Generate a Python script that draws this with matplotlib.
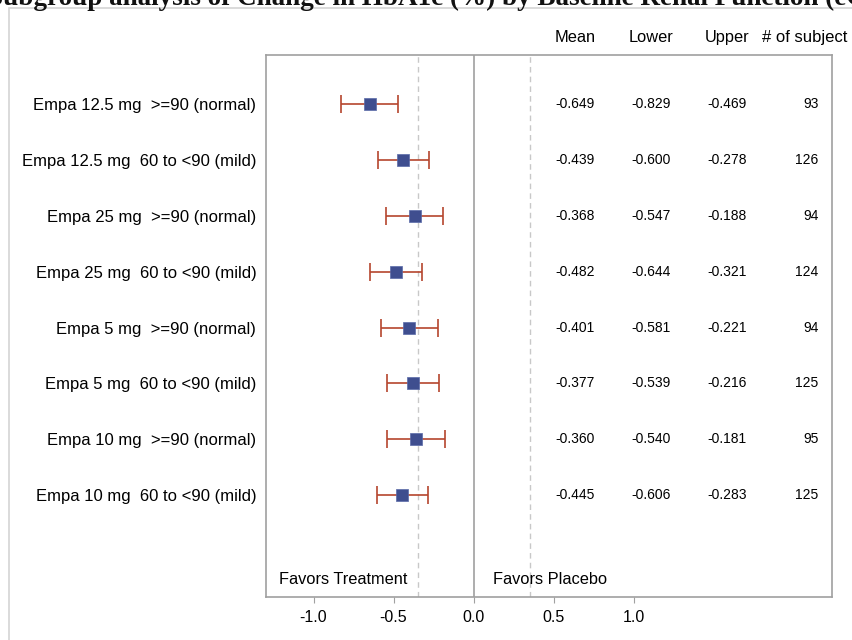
import numpy as np
import matplotlib
matplotlib.use('Agg')
import matplotlib.pyplot as plt
from matplotlib.patches import Rectangle
from matplotlib.transforms import blended_transform_factory

plt.rcParams['font.family'] = ['Liberation Sans', 'DejaVu Sans']

# data
groups = ['Empa 12.5 mg  >=90 (normal)',
          'Empa 12.5 mg  60 to <90 (mild)',
          'Empa 25 mg  >=90 (normal)',
          'Empa 25 mg  60 to <90 (mild)',
          'Empa 5 mg  >=90 (normal)',
          'Empa 5 mg  60 to <90 (mild)',
          'Empa 10 mg  >=90 (normal)',
          'Empa 10 mg  60 to <90 (mild)']
mean = [-0.649, -0.439, -0.368, -0.482, -0.401, -0.377, -0.360, -0.445]
lower = [-0.829, -0.600, -0.547, -0.644, -0.581, -0.539, -0.540, -0.606]
upper = [-0.469, -0.278, -0.188, -0.321, -0.221, -0.216, -0.181, -0.283]
n_subj = [93, 126, 94, 124, 94, 125, 95, 125]
xticks = [-1.0, -0.5, 0.0, 0.5, 1.0]

mean = np.array(mean)
lower = np.array(lower)
upper = np.array(upper)
y = np.arange(len(groups))

fig = plt.figure(figsize=(8.52, 6.40), dpi=100)
W, H = 852, 640

# outer frame (cut off on right / bottom)
fig.patches.append(Rectangle((9 / W, -0.1), 1.0, 1 - 8 / H + 0.1,
                             transform=fig.transFigure, fill=False,
                             edgecolor='#d4d4d4', lw=1.2))

# title, mostly off the top of the image
fig.text(-12 / W, 1 - 5 / H, 'Subgroup analysis of Change in HbA1c (%) by Baseline Renal Function (eGFR)',
         ha='left', va='baseline', fontsize=19.5, fontweight='bold',
         family=['Liberation Serif', 'DejaVu Serif'], color='#111111')

ax = fig.add_axes([266 / W, (640 - 597) / H, (832 - 266) / W, (597 - 55) / H])

ax.axvline(0, color='#a0a0a0', lw=1.2, zorder=1)
for xv in (-0.35, 0.35):
    ax.axvline(xv, color='#c8c8c8', lw=1, ls=(0, (4, 3)), zorder=1)

ax.errorbar(mean, y, xerr=[mean - lower, upper - mean], fmt='none',
            ecolor='#b5452e', elinewidth=1.2, capsize=6.5, capthick=1.2, zorder=2)
ax.scatter(mean, y, marker='s', s=75, color='#3f4e8f', edgecolors='#5a6aa8',
           linewidths=0.5, zorder=3)

ax.set_xlim(-1.297, 2.24)
ax.set_ylim(8.82, -0.877)

ax.set_yticks(y)
ax.set_yticklabels(groups, fontsize=12)
ax.tick_params(axis='y', length=0, pad=7)
ax.set_xticks(xticks)
ax.set_xticklabels(['%.1f' % t for t in xticks], fontsize=11.5)
ax.tick_params(axis='x', length=4, color='#a0a0a0', pad=5)

for s in ax.spines.values():
    s.set_color('#a0a0a0')
    s.set_linewidth(1.2)

# table columns
cols = [(0.634, 'Mean', ['%.3f' % v for v in mean]),
        (1.109, 'Lower', ['%.3f' % v for v in lower]),
        (1.584, 'Upper', ['%.3f' % v for v in upper])]
tr = blended_transform_factory(ax.transData, ax.transAxes)
for xc, head, vals in cols:
    ax.text(xc, 1.033, head, transform=tr, ha='center', va='center', fontsize=11.8)
    for yi, v in zip(y, vals):
        ax.text(xc, yi, v, ha='center', va='center', fontsize=10)
ax.text(2.07, 1.033, '# of subject', transform=tr, ha='center', va='center', fontsize=12)
for yi, v in zip(y, n_subj):
    ax.text(2.155, yi, str(v), ha='right', va='center', fontsize=10)

ax.text(-1.216, 8.5, 'Favors Treatment', ha='left', va='center', fontsize=11.8)
ax.text(0.12, 8.5, 'Favors Placebo', ha='left', va='center', fontsize=11.8)

fig.savefig('out.png', dpi=100)
